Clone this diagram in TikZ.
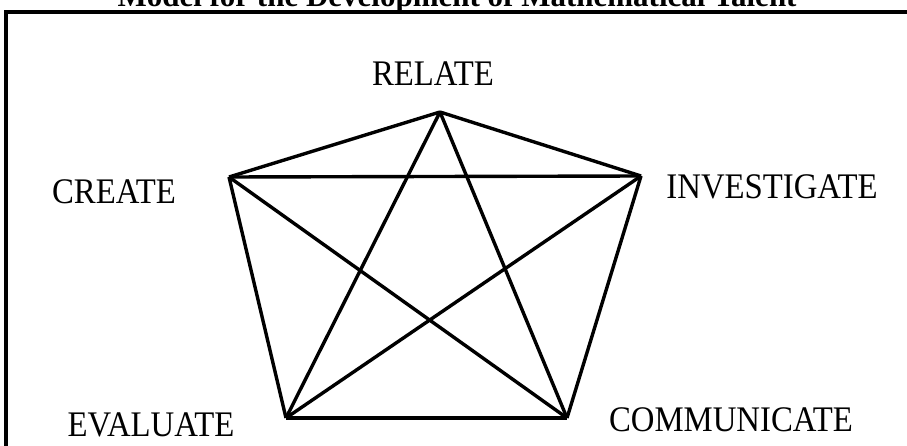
\documentclass[tikz,border=0pt]{standalone}
\usepackage{fontspec}
\setmainfont{Liberation Serif}
\newfontfamily\labelfont[FakeStretch=0.91]{Liberation Serif}
\usetikzlibrary{positioning}

\begin{document}
\begin{tikzpicture}[x=1pt,y=-1pt,
    every node/.style={inner sep=0pt,anchor=base,font=\labelfont\fontsize{36}{40}\selectfont},
    edge/.style={line width=3.4pt,line join=miter}]
    \useasboundingbox (0,0) rectangle (907,446);
    % frame and title
    \node[font=\bfseries\fontsize{31}{34}\selectfont] (title) at (457,7) {Model for the Development of Mathematical Talent};
    \draw[line width=4pt] (6,12) rectangle (930,470);
    % corners of the star
    \coordinate (rel) at (440,112);
    \coordinate (cre) at (229,177);
    \coordinate (inv) at (641,176);
    \coordinate (eva) at (286,418);
    \coordinate (com) at (567,418);
    % labels
    \node (relL) at (433,86) {RELATE};
    \node (creL) at (114,204) {CREATE};
    \node (invL) at (772,199) {INVESTIGATE};
    \node (evaL) at (151,436) {EVALUATE};
    \node (comL) at (731,431) {COMMUNICATE};
    % every corner joined to every other
    \foreach \a/\b in {rel/cre,rel/inv,rel/eva,rel/com,cre/inv,cre/eva,cre/com,inv/eva,inv/com,eva/com}
      { \draw[edge] (\a) -- (\b); }
\end{tikzpicture}
\end{document}
